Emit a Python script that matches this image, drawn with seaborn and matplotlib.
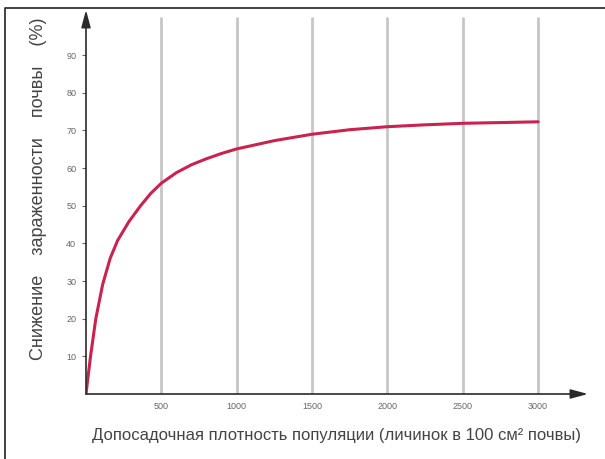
import matplotlib

matplotlib.use("Agg")
import matplotlib.pyplot as plt
import pandas as pd
import seaborn as sns
from matplotlib.lines import Line2D

# values
density = [0, 30, 65, 110, 160, 210, 285, 362, 430, 500, 600, 700, 800, 900,
           1000, 1250, 1500, 1750, 2000, 2250, 2500, 2750, 3000]
reduction = [0, 10, 20, 29, 36, 40.8, 45.8, 50, 53.3, 56, 58.8, 60.9, 62.5, 63.9,
             65.1, 67.3, 69.0, 70.2, 71.0, 71.5, 71.9, 72.1, 72.3]
x_ticks = [500, 1000, 1500, 2000, 2500, 3000]
y_ticks = [10, 20, 30, 40, 50, 60, 70, 80, 90]

xlabel = "Допосадочная плотность популяции (личинок в 100 см² почвы)"
ylabel = "Снижение    зараженности    почвы    (%)"


def main():
    sns.set_theme(style="white")
    plt.rcParams["font.family"] = ["Liberation Sans", "DejaVu Sans"]

    fig = plt.figure(figsize=(6.05, 4.59), dpi=100, facecolor="w")
    # frame of the picture: top and left edge only
    fig.lines.append(Line2D([5 / 605, 5 / 605, 1.0], [0.0, 1 - 8 / 459, 1 - 8 / 459],
                            transform=fig.transFigure, color="#333333", lw=1.3))

    ax = fig.add_axes([86 / 605, 65 / 459, 502 / 605, 384 / 459])
    xmax, ymax = 3331, 102

    for xv in x_ticks:
        ax.axvline(xv, ymin=0, ymax=0.98, color="#c6c6c6", lw=2, zorder=1)

    df = pd.DataFrame({"density": density, "reduction": reduction})
    sns.lineplot(data=df, x="density", y="reduction", ax=ax, color="#c9234f",
                 lw=2.2, zorder=3)

    ax.set_xlim(0, xmax)
    ax.set_ylim(0, ymax)
    for s in ax.spines.values():
        s.set_visible(False)

    # axes with arrows
    arrow = dict(arrowstyle="-|>,head_length=1.3,head_width=0.35", color="#2a2a2a",
                 lw=1.2, mutation_scale=8, shrinkA=0, shrinkB=0)
    ax.annotate("", xy=(xmax, 0), xytext=(0, 0), arrowprops=arrow,
                annotation_clip=False)
    ax.annotate("", xy=(0, ymax), xytext=(0, 0), arrowprops=arrow,
                annotation_clip=False)

    ax.set_xticks(x_ticks)
    ax.set_yticks(y_ticks)
    ax.set_xticklabels([str(v) for v in x_ticks], fontsize=6.5, color="#666666")
    ax.set_yticklabels([str(v) for v in y_ticks], fontsize=6.5, color="#666666")
    ax.tick_params(axis="y", length=3, width=0.8, color="#666666", pad=4, left=True)
    ax.tick_params(axis="x", length=0, pad=6)
    ax.set_xlabel(xlabel, fontsize=12, color="#444444", labelpad=12)
    ax.set_ylabel(ylabel, fontsize=13, color="#444444")
    ax.yaxis.set_label_coords(-0.077, 0.535)

    fig.savefig("out.png", dpi=100, facecolor="w")


if __name__ == "__main__":
    main()
